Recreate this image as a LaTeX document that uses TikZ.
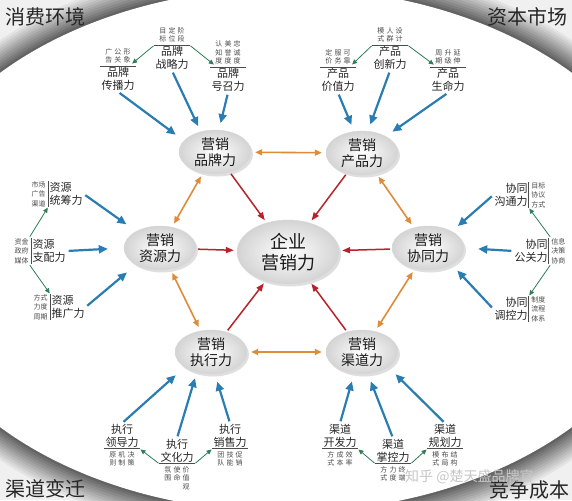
\documentclass[tikz,border=0pt]{standalone}
\usepackage{fontspec}
\setmainfont{Noto Sans CJK SC}
\usetikzlibrary{positioning,shapes.geometric,shadows,arrows.meta}

\definecolor{hexorange}{HTML}{DE8C3A}
\definecolor{corered}{HTML}{B8232B}
\definecolor{feedblue}{HTML}{2A7DB3}
\definecolor{subgreen}{HTML}{2E7D55}
\newcommand{\gap}{\hspace{2.2pt}}

\begin{document}
\begin{tikzpicture}[x=1pt, y=-1pt,
    hub/.style={ellipse, draw=black!15, shading=radial, inner color=white, outer color=black!17,
        drop shadow={shadow xshift=2pt, shadow yshift=-2.5pt, opacity=0.25},
        minimum width=72pt, minimum height=44pt, inner sep=0pt, align=center,
        text=black!90, font=\fontsize{14}{16}\selectfont},
    core/.style={hub, minimum width=102pt, minimum height=64pt, font=\fontsize{18}{21}\selectfont},
    force/.style={inner sep=1pt, align=center, text=black!85, font=\fontsize{11}{13}\selectfont},
    note/.style={inner sep=0.5pt, align=center, text=black!70, font=\fontsize{7}{8.5}\selectfont},
    colnote/.style={note, font=\fontsize{7}{9.5}\selectfont},
    corner/.style={inner sep=0pt, text=black!85, font=\fontsize{20}{22}\selectfont},
    rule/.style={black!70, line width=0.7pt},
    bluarr/.style={-{Triangle[length=9pt,width=8pt]}, line width=2.2pt, feedblue, shorten <=2pt},
    grnarr/.style={-{Triangle[length=5pt,width=4.5pt]}, line width=0.8pt, subgreen, shorten <=1pt, shorten >=1pt},
    redarr/.style={-{Triangle[length=8pt,width=6pt]}, line width=1.5pt, corered, shorten <=2pt, shorten >=3pt},
    orgarr/.style={{Triangle[length=7pt,width=6pt]}-{Triangle[length=7pt,width=6pt]}, line width=1.6pt, hexorange, shorten <=4pt, shorten >=4pt}
]
\useasboundingbox (0,0) rectangle (572,500);

% background and rim
\fill[black!6] (0,0) rectangle (572,500);
\foreach \k in {0,...,11}{
    \pgfmathsetmacro\tone{6+\k*5}
    \fill[black!\tone] (286,250) ellipse [x radius={388+(12-\k)*2.5}, y radius={262+(12-\k)*2.5}];
}
\fill[white] (286,250) ellipse [x radius=388, y radius=262];

% corners
\node[corner, anchor=west] (env) at (5,17) {消费环境};
\node[corner, anchor=east] (cap) at (568,17) {资本市场};
\node[corner, anchor=west] (shift) at (5,489) {渠道变迁};
\node[corner, anchor=east] (cost) at (570,490) {竞争成本};

% hubs
\node[core] (core) at (288,252) {企业\\营销力};
\node[hub] (brand) at (215,152) {营销\\品牌力};
\node[hub] (prod) at (362,153) {营销\\产品力};
\node[hub] (res) at (160,248) {营销\\资源力};
\node[hub] (syn) at (428,248) {营销\\协同力};
\node[hub] (exe) at (211,352) {营销\\执行力};
\node[hub] (chn) at (362,352) {营销\\渠道力};

% brand forces
\node[force] (bStrat) at (172,58) {品牌\\战略力};
\node[note, above=2pt of bStrat] (bStratN) {目\gap 定\gap 阶\\标\gap 位\gap 段};
\node[force] (bSpread) at (118,79) {品牌\\传播力};
\node[note, above=2pt of bSpread] (bSpreadN) {广\gap 公\gap 形\\告\gap 关\gap 象};
\node[force] (bCall) at (228,80) {品牌\\号召力};
\node[note, above=2pt of bCall] (bCallN) {认\gap 美\gap 忠\\知\gap 誉\gap 诚\\度\gap 度\gap 度};
\foreach \n in {bStrat,bSpread,bCall}
    \draw[rule] (\n.north west) -- (\n.north east);

% product forces
\node[force] (pInnov) at (390,58) {产品\\创新力};
\node[note, above=2pt of pInnov] (pInnovN) {模\gap 人\gap 设\\式\gap 群\gap 计};
\node[force] (pValue) at (338,80) {产品\\价值力};
\node[note, above=2pt of pValue] (pValueN) {定\gap 服\gap 可\\价\gap 务\gap 靠};
\node[force] (pLife) at (448,80) {产品\\生命力};
\node[note, above=2pt of pLife] (pLifeN) {周\gap 升\gap 延\\期\gap 级\gap 伸};
\foreach \n in {pInnov,pValue,pLife}
    \draw[rule] (\n.north west) -- (\n.north east);

% resource forces
\node[force, align=left] (rPlan) at (66,194) {资源\\统筹力};
\node[colnote, left=2pt of rPlan] (rPlanN) {市场\\广告\\渠道};
\node[force, align=left] (rAlloc) at (49,251) {资源\\支配力};
\node[colnote, left=2pt of rAlloc] (rAllocN) {资金\\政府\\媒体};
\node[force, align=left] (rPromo) at (68,307) {资源\\推广力};
\node[colnote, left=2pt of rPromo] (rPromoN) {方式\\力度\\周期};
\foreach \n in {rPlan,rAlloc,rPromo}
    \draw[rule] (\n.north west) -- (\n.south west);

% synergy forces
\node[force, align=right] (cComm) at (511,195) {协同\\沟通力};
\node[colnote, right=2pt of cComm] (cCommN) {目标\\协议\\方式};
\node[force, align=right] (cPR) at (531,251) {协同\\公关力};
\node[colnote, right=2pt of cPR] (cPRN) {信息\\决策\\协商};
\node[force, align=right] (cCtrl) at (511,309) {协同\\调控力};
\node[colnote, right=2pt of cCtrl] (cCtrlN) {制度\\流程\\体系};
\foreach \n in {cComm,cPR,cCtrl}
    \draw[rule] (\n.north east) -- (\n.south east);

% execution forces
\node[force] (eLead) at (122,436) {执行\\领导力};
\node[note, below=2pt of eLead] (eLeadN) {原\gap 机\gap 决\\则\gap 制\gap 策};
\node[force] (eCult) at (177,451) {执行\\文化力};
\node[note, below=2pt of eCult] (eCultN) {氛\gap 使\gap 价\\围\gap 命\gap 值\\\phantom{氛}\gap\phantom{使}\gap 观};
\node[force] (eSale) at (230,436) {执行\\销售力};
\node[note, below=2pt of eSale] (eSaleN) {团\gap 技\gap 促\\队\gap 能\gap 销};
\foreach \n in {eLead,eCult,eSale}
    \draw[rule] (\n.south west) -- (\n.south east);

% channel forces
\node[force] (dDev) at (340,436) {渠道\\开发力};
\node[note, below=2pt of dDev] (dDevN) {方\gap 成\gap 效\\式\gap 本\gap 率};
\node[force] (dCtrl) at (393,451) {渠道\\掌控力};
\node[note, below=2pt of dCtrl] (dCtrlN) {方\gap 力\gap 终\\式\gap 度\gap 端};
\node[force] (dPlan) at (445,436) {渠道\\规划力};
\node[note, below=2pt of dPlan] (dPlanN) {模\gap 布\gap 结\\式\gap 局\gap 构};
\foreach \n in {dDev,dCtrl,dPlan}
    \draw[rule] (\n.south west) -- (\n.south east);

% hubs into the core
\foreach \h in {brand,prod,res,syn,exe,chn}
    \draw[redarr] (\h) -- (core);

% ring between hubs
\draw[orgarr] (brand) -- (prod);
\draw[orgarr] (prod) -- (syn);
\draw[orgarr] (syn) -- (chn);
\draw[orgarr] (chn) -- (exe);
\draw[orgarr] (exe) -- (res);
\draw[orgarr] (res) -- (brand);

% forces into the hubs
\draw[bluarr, shorten >=10pt] (bSpread.south) -- (brand.160);
\draw[bluarr, shorten >=6pt] (bStrat.south) -- (brand.125);
\draw[bluarr, shorten >=7pt] (bCall.south) -- (brand.80);
\draw[bluarr, shorten >=7pt] (pValue.south) -- (prod.110);
\draw[bluarr, shorten >=7pt] (pInnov.south) -- (prod.75);
\draw[bluarr, shorten >=8pt] (pLife.south) -- (prod.35);
\draw[bluarr, shorten >=12pt] (rPlan.east) -- (res.145);
\draw[bluarr, shorten >=16pt] (rAlloc.east) -- (res.west);
\draw[bluarr, shorten >=12pt] (rPromo.east) -- (res.215);
\draw[bluarr, shorten >=8pt] (cComm.west) -- (syn.35);
\draw[bluarr, shorten >=14pt] (cPR.west) -- (syn.east);
\draw[bluarr, shorten >=8pt] (cCtrl.west) -- (syn.-35);
\draw[bluarr, shorten >=12pt] (eLead.north) -- (exe.-150);
\draw[bluarr, shorten >=6pt] (eCult.north) -- (exe.-125);
\draw[bluarr, shorten >=8pt] (eSale.north) -- (exe.-80);
\draw[bluarr, shorten >=8pt] (dDev.north) -- (chn.-110);
\draw[bluarr, shorten >=8pt] (dCtrl.north) -- (chn.-75);
\draw[bluarr, shorten >=10pt] (dPlan.north) -- (chn.-30);

% middle force to its neighbours
\draw[grnarr] (bStrat.north west) -- (bSpreadN.south east);
\draw[grnarr] (bStrat.north east) -- (bCallN.south west);
\draw[grnarr] (pInnov.north west) -- (pValueN.south east);
\draw[grnarr] (pInnov.north east) -- (pLifeN.south west);
\draw[grnarr] (rAllocN.north east) -- (rPlan.south west);
\draw[grnarr] (rAllocN.south east) -- (rPromo.north west);
\draw[grnarr] (cPRN.north west) -- (cComm.south east);
\draw[grnarr] (cPRN.south west) -- (cCtrl.north east);
\draw[grnarr] (eCult.south west) -- (eLead.south east);
\draw[grnarr] (eCult.south east) -- (eSale.south west);
\draw[grnarr] (dCtrl.south west) -- (dDev.south east);
\draw[grnarr] (dCtrl.south east) -- (dPlan.south west);

% watermark
\node[text=black!22, font=\fontsize{14}{14}\selectfont, anchor=west, inner sep=0pt] (mark) at (405,477) {知乎 @楚天盛品牌官};
\end{tikzpicture}
\end{document}
